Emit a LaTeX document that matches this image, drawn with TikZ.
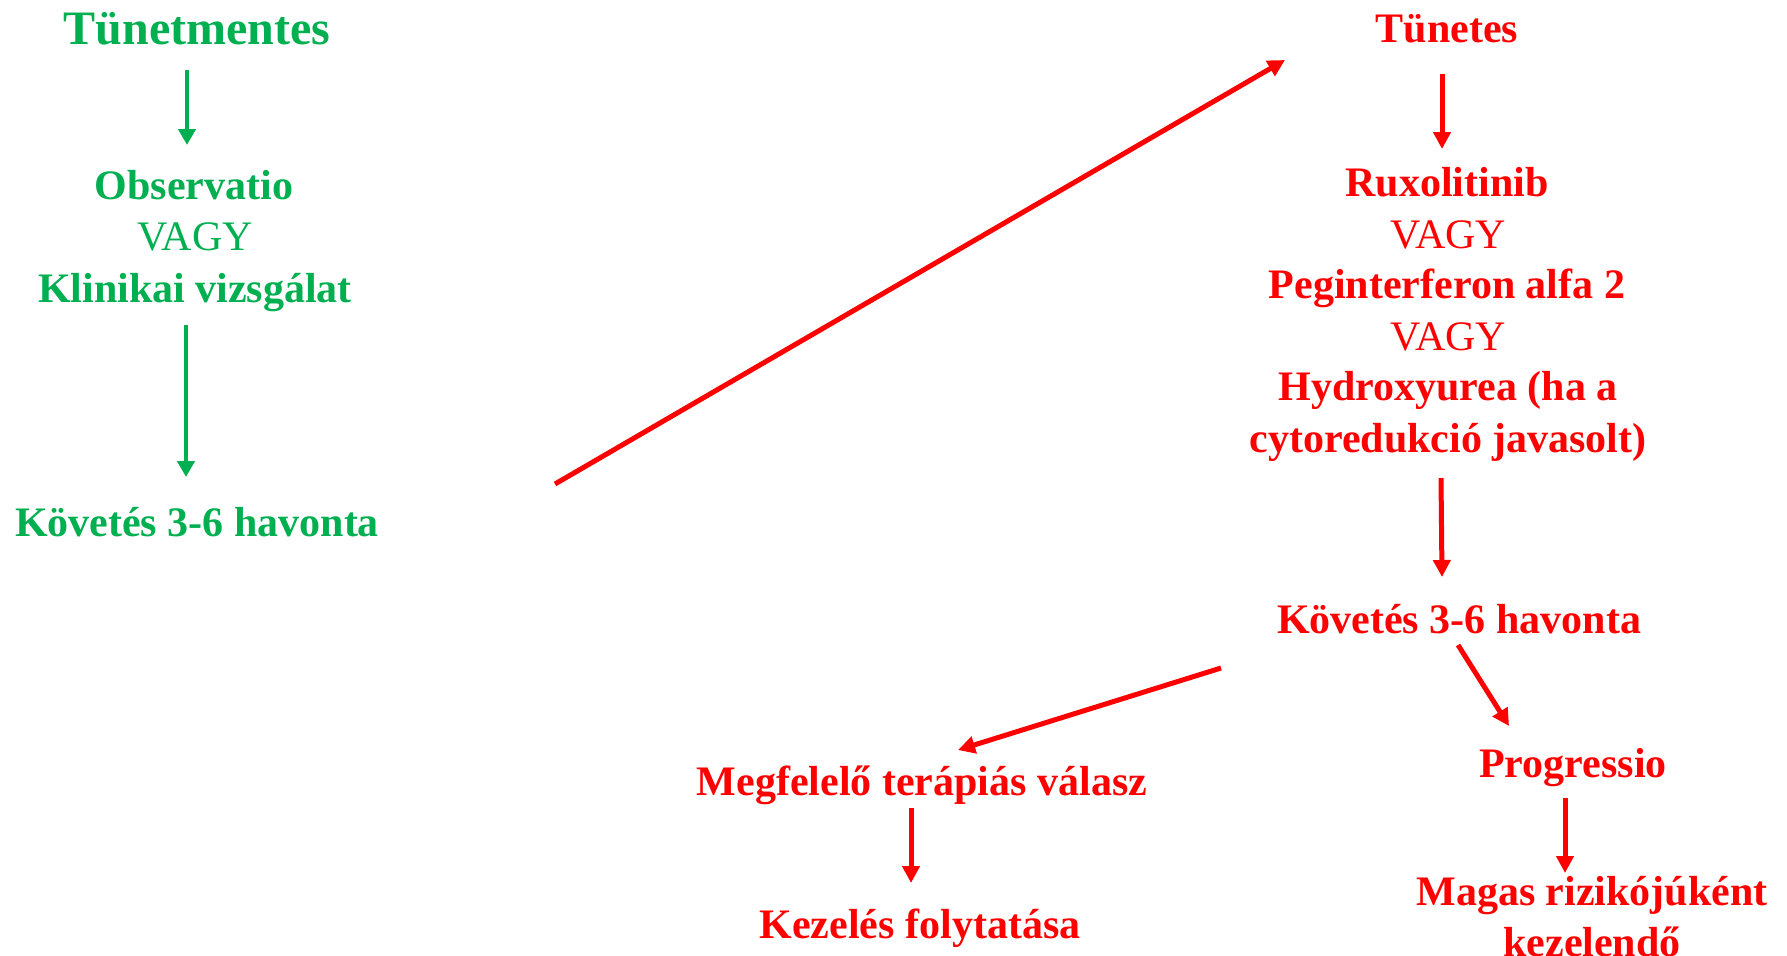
\documentclass[tikz,border=0pt]{standalone}
\usepackage{fontspec}
\setmainfont{Liberation Serif}
\usetikzlibrary{arrows.meta}
\definecolor{pgreen}{RGB}{0,176,80}
\definecolor{pred}{RGB}{255,0,0}
\tikzset{
  lbl/.style={anchor=base, inner sep=0pt, font=\fontsize{21}{24}\selectfont\bfseries},
  lblr/.style={anchor=base, inner sep=0pt, font=\fontsize{21}{24}\selectfont},
  big/.style={anchor=base, inner sep=0pt, font=\fontsize{24}{28}\selectfont\bfseries},
  garrow/.style={draw=pgreen, line width=2pt, -{Triangle[length=8pt,width=8.5pt]}, fill=pgreen},
  rarrow/.style={draw=pred, line width=2.5pt, -{Triangle[length=8.5pt,width=8.5pt]}, fill=pred},
}
\begin{document}
\begin{tikzpicture}[x=0.5pt, y=-0.5pt]
\useasboundingbox (0,0) rectangle (1787,955);
% left (green)
\begin{scope}[text=pgreen]
\node[big] (tm) at (197,44) {Tünetmentes};
\node[lbl] (obs) at (194,199) {Observatio};
\node[lblr] (vagy1) at (195,250) {VAGY};
\node[lbl] (klin) at (195,302) {Klinikai vizsgálat};
\node[lbl] (kov1) at (197,536) {Követés 3-6 havonta};
\end{scope}
% right (red)
\begin{scope}[text=pred]
\node[lbl] (tun) at (1447,42) {Tünetes};
\node[lbl] (rux) at (1447,196) {Ruxolitinib};
\node[lblr] (vagy2) at (1448,248) {VAGY};
\node[lbl] (peg) at (1447,298) {Peginterferon alfa 2};
\node[lblr] (vagy3) at (1448,350) {VAGY};
\node[lbl] (hyd1) at (1448,400) {Hydroxyurea (ha a};
\node[lbl] (hyd2) at (1448,452) {cytoredukció javasolt)};
\node[lbl] (kov2) at (1459,633) {Követés 3-6 havonta};
\node[lbl] (megf) at (922,795) {Megfelelő terápiás válasz};
\node[lbl] (kez) at (920,938) {Kezelés folytatása};
\node[lbl] (prog) at (1573,777) {Progressio};
\node[lbl] (mag1) at (1592,905) {Magas rizikójúként};
\node[lbl] (mag2) at (1592,956) {kezelendő};
\end{scope}
% green arrows
\draw[garrow] ([shift={(-10,26)}]tm.base) -- ([shift={(-7,-54)}]obs.base);
\draw[garrow] ([shift={(-9,23)}]klin.base) -- ([shift={(-11,-59)}]kov1.base);
% red arrows
\draw[rarrow] ([shift={(358,-52)}]kov1.base) -- ([shift={(-162,18)}]tun.base);
\draw[rarrow] ([shift={(-5,32)}]tun.base) -- ([shift={(-5,-47)}]rux.base);
\draw[rarrow] ([shift={(-7,26)}]hyd2.base) -- ([shift={(-17,-56)}]kov2.base);
\draw[rarrow] ([shift={(-238,35)}]kov2.base) -- ([shift={(36,-45)}]megf.base);
\draw[rarrow] ([shift={(-1,12)}]kov2.base) -- ([shift={(-64,-51)}]prog.base);
\draw[rarrow] ([shift={(-11,13)}]megf.base) -- ([shift={(-9,-55)}]kez.base);
\draw[rarrow] ([shift={(-8,21)}]prog.base) -- ([shift={(-27,-32)}]mag1.base);
\end{tikzpicture}
\end{document}
